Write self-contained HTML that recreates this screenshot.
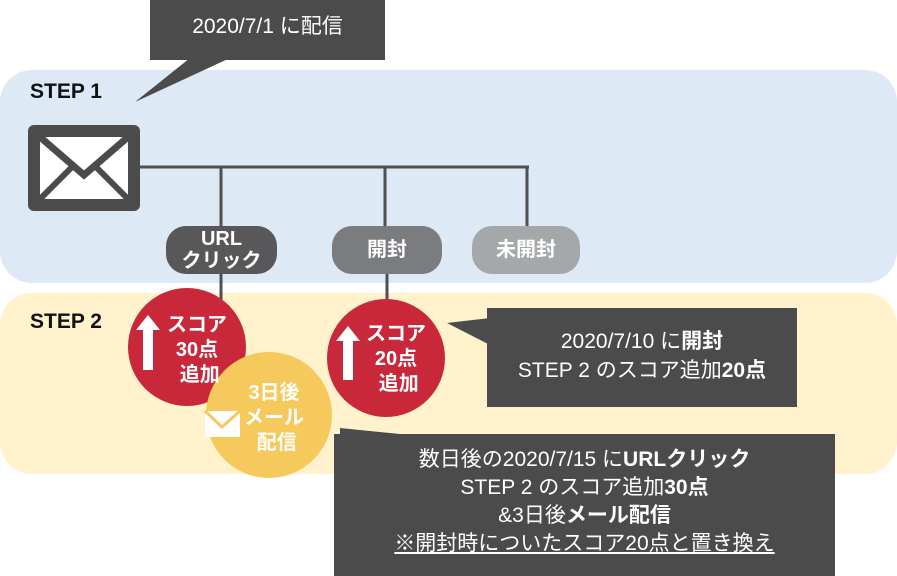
<!DOCTYPE html><html><head><meta charset="utf-8"><style>
body{margin:0;width:897px;height:576px;position:relative;overflow:hidden;background:#fff;font-family:"Liberation Sans","Noto Sans CJK JP",sans-serif}
.a{position:absolute}
.pill{position:absolute;border-radius:20px;color:#fff;font-weight:bold;font-size:20px;text-align:center;display:flex;align-items:center;justify-content:center;line-height:22px}
.box{position:absolute;background:#4b4b4b;color:#fff;text-align:center;font-size:21px}
.circ{position:absolute;border-radius:50%;color:#fff;font-weight:bold;font-size:20px;line-height:25px}
</style></head><body>
<div class="a" style="left:0;top:70px;width:897px;height:213px;background:#dde9f5;border-radius:32px"></div>
<div class="a" style="left:0;top:293px;width:897px;height:181px;background:#fff2cc;border-radius:32px"></div>
<div class="a" style="left:30px;top:80px;font-size:21px;font-weight:bold;color:#111">STEP 1</div>
<div class="a" style="left:30px;top:310px;font-size:21px;font-weight:bold;color:#111">STEP 2</div>
<svg class="a" style="left:0;top:0" width="897" height="576">
<polygon points="190,58 230,58 135,102" fill="#4b4b4b"/>
<polygon points="490,318 490,345 447,323" fill="#4b4b4b"/>
<polygon points="340,428 420,436 340,436" fill="#4b4b4b"/>
<g stroke="#505050" stroke-width="3" fill="none">
<line x1="140" y1="167" x2="529" y2="167"/>
<line x1="221" y1="167" x2="221" y2="230"/>
<line x1="385" y1="167" x2="385" y2="230"/>
<line x1="527" y1="167" x2="527" y2="230"/>
<line x1="221" y1="270" x2="221" y2="300"/>
<line x1="387" y1="270" x2="387" y2="300"/>
</g>
<rect x="28" y="125" width="112" height="86" rx="6" fill="#4b4b4b"/>
<rect x="40" y="137" width="88" height="62" fill="#fff"/>
<polyline points="40,137 84,175 128,137" fill="none" stroke="#4b4b4b" stroke-width="7"/>
<line x1="40" y1="199" x2="72" y2="167" stroke="#4b4b4b" stroke-width="6"/>
<line x1="128" y1="199" x2="96" y2="167" stroke="#4b4b4b" stroke-width="6"/>
</svg>
<div class="box" style="left:150px;top:0;width:235px;height:60px;line-height:54px">2020/7/1 に配信</div>
<div class="pill" style="left:166px;top:226px;width:111px;height:48px;background:#58585a">URL<br>クリック</div>
<div class="pill" style="left:332px;top:226px;width:110px;height:48px;background:#7a7c80">開封</div>
<div class="pill" style="left:472px;top:226px;width:108px;height:48px;background:#a5a8ab">未開封</div>
<div class="circ" style="left:128px;top:288px;width:118px;height:118px;background:#c8283a"></div>
<div class="circ" style="left:327px;top:299px;width:118px;height:118px;background:#c8283a"></div>
<div class="circ" style="left:206px;top:352px;width:126px;height:126px;background:#f5c95c"></div>
<svg class="a" style="left:0;top:0" width="897" height="576">
<polygon points="148,315 160,330 153,330 153,370 143,370 143,330 136,330" fill="#fff"/>
<polygon points="348,326 360,341 353,341 353,380 343,380 343,341 336,341" fill="#fff"/>
<rect x="205" y="411" width="35" height="26" fill="#fff"/>
<polyline points="205,411 222,427 240,411" fill="none" stroke="#f5c95c" stroke-width="3"/>
</svg>
<div class="circ" style="left:161px;top:313px;width:72px;text-align:center">スコア<br>30点<br>&nbsp;追加</div>
<div class="circ" style="left:360px;top:322px;width:72px;text-align:center">スコア<br>20点<br>&nbsp;追加</div>
<div class="circ" style="left:238px;top:381px;width:72px;text-align:center">3日後<br>メール<br>&nbsp;配信</div>
<div class="box" style="left:487px;top:308px;width:310px;height:99px;line-height:29px;padding-top:19px;box-sizing:border-box">2020/7/10 に<b>開封</b><br>STEP 2 のスコア追加<b>20点</b></div>
<div class="box" style="left:334px;top:434px;width:501px;height:142px;line-height:28px;padding-top:12px;box-sizing:border-box">数日後の2020/7/15 に<b>URLクリック</b><br>STEP 2 のスコア追加<b>30点</b><br>&amp;3日後<b>メール配信</b><br><u>※開封時についたスコア20点と置き換え</u></div>
</body></html>
